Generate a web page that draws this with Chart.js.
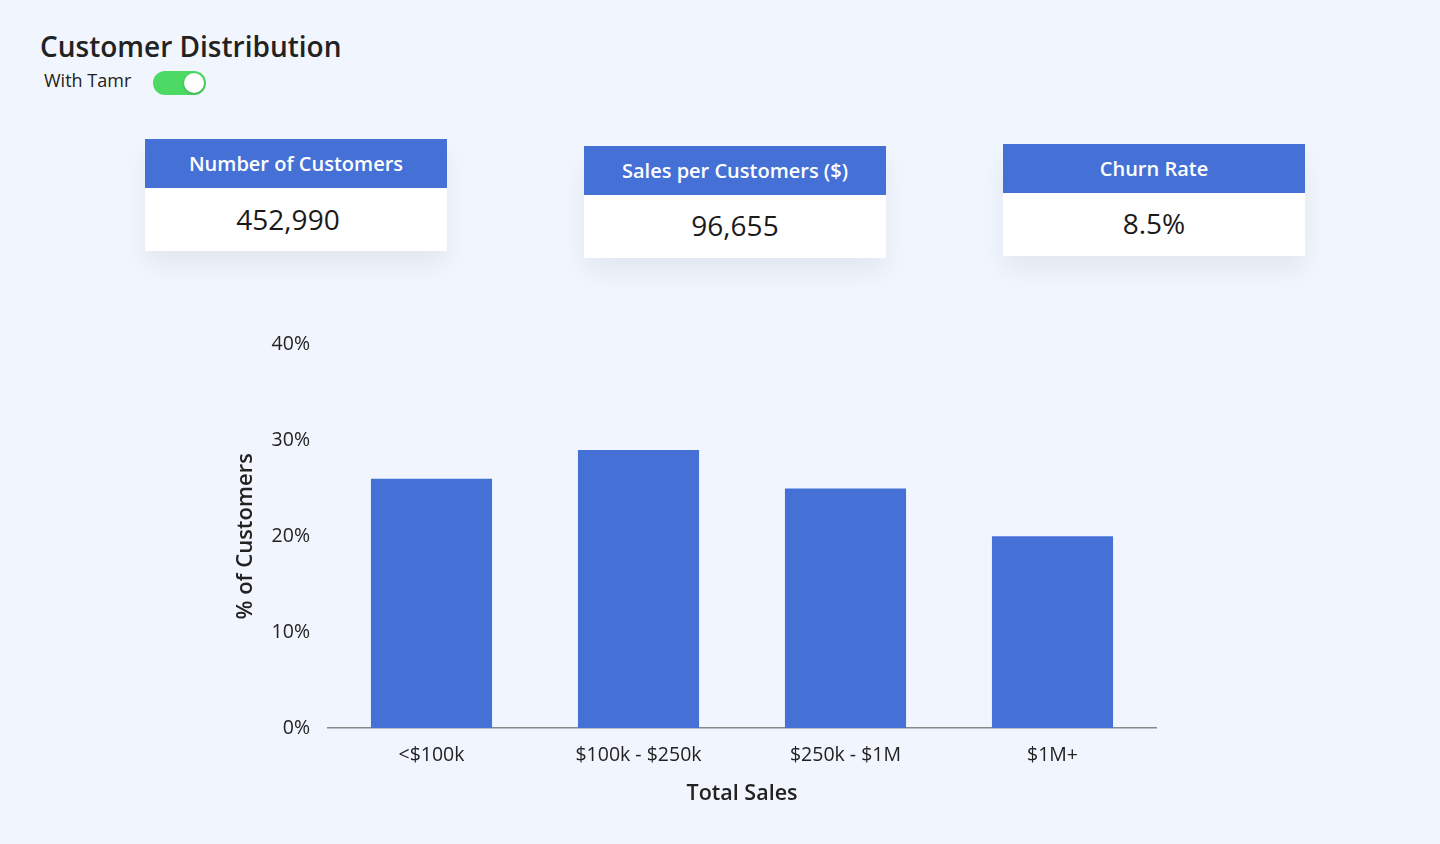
<!DOCTYPE html>
<html>
<head>
<meta charset="utf-8">
<script src="https://cdn.jsdelivr.net/npm/chart.js@4.4.0/dist/chart.umd.min.js"></script>
<style>
  html, body { margin: 0; padding: 0; }
  body { width: 1440px; height: 844px; background: #F1F5FD; font-family: "Open Sans", sans-serif; position: relative; overflow: hidden; color: #222; }
  .title { position: absolute; left: 40px; top: 27px; font-size: 28px; font-weight: 600; color: #222; }
  .sub { position: absolute; left: 44px; top: 68px; font-size: 18px; color: #222; }
  .toggle { position: absolute; left: 153px; top: 71px; width: 53px; height: 24px; border-radius: 12px; background: #4CD964; }
  .knob { position: absolute; right: 2px; top: 2px; width: 20px; height: 20px; border-radius: 50%; background: #fff; box-shadow: 0 1px 3px rgba(0,0,0,0.25); }
  .card { position: absolute; width: 302px; background: #fff; box-shadow: 0 14px 24px rgba(0,0,0,0.06); }
  .card .hd { height: 49px; background: #4570D6; color: #fff; font-size: 20px; font-weight: 600; text-align: center; line-height: 49px; }
  .card .bd { height: 63px; text-align: center; font-size: 28px; font-weight: 500; line-height: 63px; color: #1a1a1a; }
  #wrap { position: absolute; left: 200px; top: 315px; width: 980px; height: 506px; }
</style>
</head>
<body>
<div class="title">Customer Distribution</div>
<div class="sub">With Tamr</div>
<div class="toggle"><div class="knob"></div></div>

<div class="card" style="left:145px; top:139px;"><div class="hd">Number of Customers</div><div class="bd" style="padding-right:16px;">452,990</div></div>
<div class="card" style="left:584px; top:146px;"><div class="hd">Sales per Customers ($)</div><div class="bd" style="line-height:60px;">96,655</div></div>
<div class="card" style="left:1003px; top:144px;"><div class="hd">Churn Rate</div><div class="bd" style="line-height:60px;">8.5%</div></div>

<div id="wrap"><canvas id="c"></canvas></div>

<script>
const categories = ["<$100k", "$100k - $250k", "$250k - $1M", "$1M+"];
const customerShare = [26, 29, 25, 20];
const yTicks = [0, 10, 20, 30, 40];

Chart.defaults.font.family = '"Open Sans", sans-serif';
Chart.defaults.color = '#222';

new Chart(document.getElementById('c'), {
  type: 'bar',
  data: {
    labels: categories,
    datasets: [{
      data: customerShare,
      backgroundColor: '#4570D6',
      barPercentage: 0.585,
      categoryPercentage: 1.0,
      borderWidth: 0
    }]
  },
  options: {
    responsive: true,
    maintainAspectRatio: false,
    animation: false,
    layout: { padding: { top: 1, right: 24, bottom: 0, left: 0 } },
    plugins: { legend: { display: false }, tooltip: { enabled: false } },
    scales: {
      x: {
        grid: { display: false, drawTicks: false },
        border: { display: true, color: '#888', width: 1.5 },
        ticks: { font: { size: 19.5 }, color: '#222', padding: 16 },
        title: { display: true, text: 'Total Sales', font: { size: 21.5, weight: '600' }, color: '#222', padding: { top: 0, bottom: 14 } },
        afterFit: s => { s.height = 93; }
      },
      y: {
        min: 0, max: 40,
        afterBuildTicks: s => { s.ticks = yTicks.map(v => ({ value: v })); },
        grid: { display: false, drawTicks: false },
        border: { display: false },
        ticks: { font: { size: 19.5 }, color: '#222', padding: 18, callback: v => v + '%' },
        title: { display: true, text: '% of Customers', font: { size: 22, weight: '600' }, color: '#222', padding: { top: 33, bottom: 0 } },
        afterFit: s => { s.width = 128; }
      }
    }
  }
});
</script>
</body>
</html>
